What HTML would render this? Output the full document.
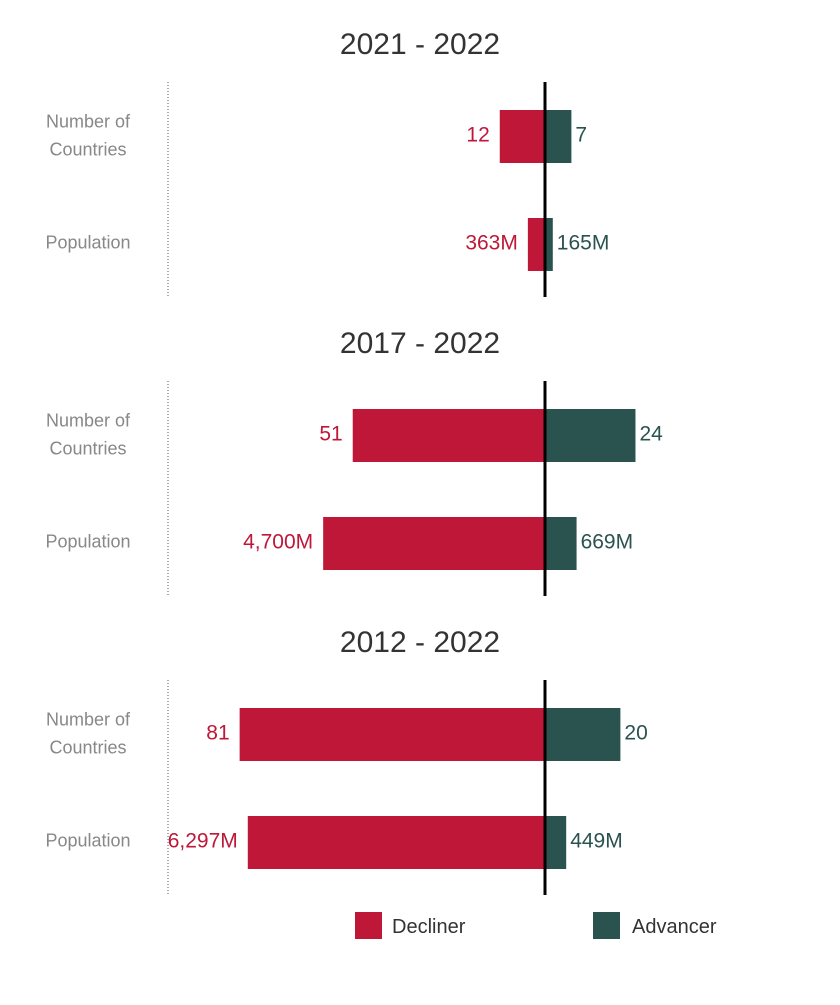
<!DOCTYPE html>
<html><head><meta charset="utf-8"><style>
body{margin:0;background:#fff;font-family:"Liberation Sans",sans-serif}
</style></head><body>
<svg id="chart" width="840" height="1000" xmlns="http://www.w3.org/2000/svg"></svg>
<script>
const periods = ["2021 - 2022", "2017 - 2022", "2012 - 2022"];
const rowLabels = [["Number of", "Countries"], ["Population"]];
const declinerCountries = [12, 51, 81];
const advancerCountries = [7, 24, 20];
const declinerPop = [363, 4700, 6297];
const advancerPop = [165, 669, 449];
const declinerPopLabels = ["363M", "4,700M", "6,297M"];
const advancerPopLabels = ["165M", "669M", "449M"];

const NS = "http://www.w3.org/2000/svg";
const svg = document.getElementById("chart");
const RED = "#BE1737", GREEN = "#2A5350";
const cx = 545;
const xCountries = v => v * 3.77;
const xPop = v => v * 0.0472;
function el(tag, attrs, text) {
  const e = document.createElementNS(NS, tag);
  for (const k in attrs) e.setAttribute(k, attrs[k]);
  if (text !== undefined) e.textContent = text;
  svg.appendChild(e);
  return e;
}
periods.forEach((p, i) => {
  const top = 82 + i * 299;
  const t = el("text", {x: 420, y: top - 28, "text-anchor": "middle", "font-size": 30, fill: "#333"}, p);
  
  
  const dl = el("line", {x1: 168, x2: 168, y1: top, y2: top + 214, stroke: "#555", "stroke-dasharray": "1,2"});
  
  
  const rows = [
    {dv: xCountries(declinerCountries[i]), av: xCountries(advancerCountries[i]), dl: String(declinerCountries[i]), al: String(advancerCountries[i]), y: top + 28, lab: rowLabels[0]},
    {dv: xPop(declinerPop[i]), av: xPop(advancerPop[i]), dl: declinerPopLabels[i], al: advancerPopLabels[i], y: top + 136, lab: rowLabels[1]}
  ];
  rows.forEach((r, j) => {
    const h = 53, my = r.y + h / 2;
    if (r.lab.length === 2) {
      const a = el("text", {x: 88, y: my - 9, "text-anchor": "middle", "font-size": 18, fill: "#888"}, r.lab[0]);
      
      
      const b = el("text", {x: 88, y: my + 19, "text-anchor": "middle", "font-size": 18, fill: "#888"}, r.lab[1]);
      
      
    } else {
      const a = el("text", {x: 88, y: my + 4, "text-anchor": "middle", "font-size": 18, fill: "#888"}, r.lab[0]);
      
      
    }
    const db = el("rect", {x: cx - r.dv, y: r.y, width: r.dv, height: h, fill: RED});
    
    
    const ab = el("rect", {x: cx, y: r.y, width: r.av, height: h, fill: GREEN});
    
    
    const dt = el("text", {x: cx - r.dv - 10, y: my + 5, "text-anchor": "end", "font-size": 21, fill: RED}, r.dl);
    
    
    const at = el("text", {x: cx + Math.max(r.av, 6) + 4, y: my + 5, "font-size": 21, fill: GREEN}, r.al);
    
    
  });
  const ax = el("line", {x1: cx, x2: cx, y1: top, y2: top + 215, stroke: "#000", "stroke-width": 3});
  
  
});
const l1 = el("rect", {x: 355, y: 912, width: 27, height: 27, fill: RED});


const l2 = el("text", {x: 392, y: 933, "font-size": 20, fill: "#333"}, "Decliner");


const l3 = el("rect", {x: 593, y: 912, width: 27, height: 27, fill: GREEN});


const l4 = el("text", {x: 632, y: 933, "font-size": 20, fill: "#333"}, "Advancer");


</script>
</body></html>
